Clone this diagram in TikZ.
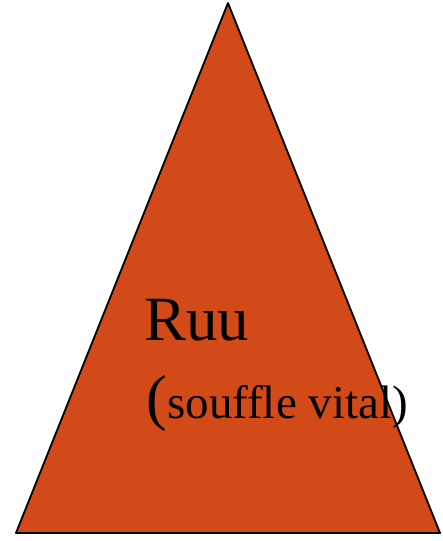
\documentclass[tikz,border=0pt]{standalone}
\usepackage{fontspec}
\setmainfont{Liberation Serif}
\usepackage{xcolor}
\definecolor{rustorange}{RGB}{210,74,24}

\begin{document}
\begin{tikzpicture}[x=1pt,y=-1pt]
\tikzset{pyramid/.style={draw=black,line width=1.8pt,line join=round,fill=rustorange}}
\tikzset{label text/.style={inner sep=0pt,anchor=base west,text=black}}

\useasboundingbox (0,0) rectangle (442,541);

\coordinate (top) at (228,3);
\coordinate (baseL) at (16,533);
\coordinate (baseR) at (440,533);
\draw[pyramid] (top) -- (baseR) -- (baseL) -- cycle;

\node[label text,font=\fontsize{63}{70}\selectfont] (ruu) at (144,340) {Ruu};
\node[label text,font=\fontsize{62}{68}\selectfont] (paren) at (146,418) {(};
\node[label text,font=\fontsize{47}{54}\selectfont] (souffle) at (paren.base east) {souffle vital)};

\end{tikzpicture}
\end{document}
